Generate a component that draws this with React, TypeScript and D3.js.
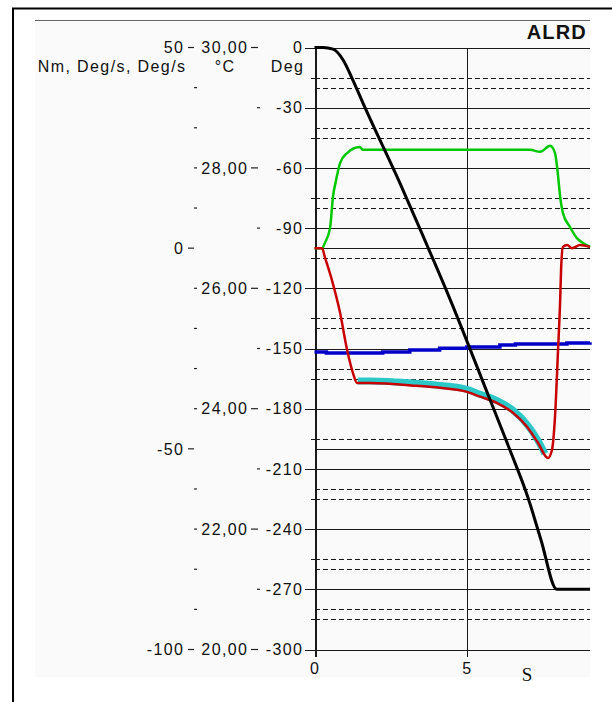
import * as d3 from "d3";

// time axis, seconds
const xTicks = [0, 5];

// Deg axis (black curve)
const degTicks = [0, -30, -60, -90, -120, -150, -180, -210, -240, -270, -300];
const degMinor = [-15, -45, -75, -105, -135, -165, -195, -225, -255, -285];
// Nm / Deg/s axis
const nmTicks = [50, 0, -50, -100];
const nmMinor = [40, 30, 20, 10, -10, -20, -30, -40, -60, -70, -80, -90];
// temperature axis
const tempTicks = [30, 28, 26, 24, 22, 20];
const tempMinor = [29, 27, 25, 23, 21];

// angle, Deg
const angleT = [0, 0.28, 0.61, 0.94, 1.26, 1.66, 2.81, 3.61, 4.4, 5.77, 6.42, 7.02, 7.44, 7.96, 9.05];
const angleV = [0, 0, -0.8, -6.2, -16.2, -30, -67.7, -95.5, -123.5, -175.7, -200.6, -224.6, -245.4, -270, -270];

// speed, Deg/s (green)
const speedT = [0, 0.25, 0.34, 0.51, 0.61, 0.71, 0.84, 1.07, 1.49, 1.59, 7.08, 7.41, 7.74, 7.9, 7.97, 8.07, 8.16, 8.39, 8.62, 8.82, 9.05];
const speedV = [0, 0, 1.3, 5, 13, 17, 21.2, 23.7, 25.2, 24.5, 24.5, 24, 25.5, 23.7, 20.2, 12.8, 8.8, 5.3, 2.5, 1.3, 0.3];

// torque, Nm (red)
const torqueT = [0, 0.25, 0.34, 0.57, 0.84, 1.07, 1.26, 1.4, 1.82, 3.37, 4.12, 5.01, 5.44, 6, 6.52, 6.98, 7.34, 7.67, 7.8, 7.9, 8, 8.07, 8.1, 8.16, 8.3, 8.46, 8.72, 9.05];
const torqueV = [0, 0, -2.2, -7.9, -16.1, -25.3, -31, -33.6, -33.6, -34.3, -34.8, -35.8, -37, -38.6, -41, -44.5, -48.5, -52.3, -50.3, -42.1, -25.4, -12.9, -5.4, 0.3, 0.8, 0, 0.8, 0.3];

// second speed, Deg/s (cyan)
const speed2T = [1.42, 1.82, 3.37, 4.12, 5.01, 5.44, 6, 6.52, 6.98, 7.34, 7.57];
const speed2V = [-33.1, -33.1, -33.7, -34.2, -35.2, -36.4, -38, -40.4, -43.9, -47.9, -51.2];

// temperature, °C (blue)
const tempT = [0, 0.39, 2.24, 3.13, 4.11, 5.0, 6.09, 6.6, 8.29, 9.05];
const tempV = [24.94, 24.925, 24.94, 24.975, 25.005, 25.025, 25.058, 25.075, 25.092, 25.105];

const W = 612;
const H = 702;
const left = 314.5;
const right = 590;
const top = 47.5;
const bottom = 649.5;

const font = "'Liberation Sans', Arial, sans-serif";

export default function App() {
  const x = d3.scaleLinear().domain([0, 9.05]).range([left, right]);
  const yDeg = d3.scaleLinear().domain([0, -300]).range([top, bottom]);
  const yNm = d3.scaleLinear().domain([50, -100]).range([top, bottom]);
  const yTemp = d3.scaleLinear().domain([30, 20]).range([top, bottom]);

  const mk = (ts: number[], vs: number[]) => ts.map((t, i) => [t, vs[i]] as [number, number]);
  const snap = (v: number) => Math.round(v) + 0.5;

  const angleLine = d3
    .line<[number, number]>()
    .x((d) => x(d[0]))
    .y((d) => yDeg(d[1]))
    .curve(d3.curveMonotoneX);
  const nmLine = d3
    .line<[number, number]>()
    .x((d) => x(d[0]))
    .y((d) => yNm(d[1]))
    .curve(d3.curveMonotoneX);
  const tempLine = d3
    .line<[number, number]>()
    .x((d) => x(d[0]))
    .y((d) => yTemp(d[1]))
    .curve(d3.curveStepAfter);

  const lbl = {
    fontFamily: font,
    fontSize: 16,
    letterSpacing: 1.4,
    fill: "#111",
  } as const;

  const nmRight = 183 + 1.4;
  const tempRight = 247 + 1.4;
  const degRight = 302 + 1.4;
  const gridCol = "#1a1a1a";

  return (
    <svg
      width={W}
      height={H}
      style={{ position: "absolute", left: 0, top: 0, background: "#fff" }}
    >
      <rect x={35} y={20} width={555} height={657} fill="#fafafa" />
      <line x1={12} x2={W} y1={8.5} y2={8.5} stroke="#000" strokeWidth={2} />
      <line x1={13} x2={13} y1={8} y2={H} stroke="#000" strokeWidth={2} />
      <line x1={35} x2={590} y1={20.5} y2={20.5} stroke="#666" strokeWidth={1} />

      <text x={587} y={39} textAnchor="end" fontFamily={font} fontWeight="bold" fontSize={20} letterSpacing={1.2} fill="#111">
        ALRD
      </text>

      {/* grid */}
      <g shapeRendering="crispEdges">
        {degMinor.map((d) => (
          <g key={"dm" + d}>
            <line x1={left} x2={right} y1={snap(yDeg(d))} y2={snap(yDeg(d))} stroke={gridCol} strokeWidth={1.4} strokeDasharray="5,3" />
            <line x1={left - 4} x2={left} y1={snap(yDeg(d))} y2={snap(yDeg(d))} stroke={gridCol} strokeWidth={1.4} />
          </g>
        ))}
        {nmMinor.map((d) => (
          <line key={"nm" + d} x1={left} x2={right} y1={snap(yNm(d))} y2={snap(yNm(d))} stroke={gridCol} strokeWidth={1.4} strokeDasharray="5,3" />
        ))}
        {degTicks.map((d) => (
          <line key={"dg" + d} x1={left - 10} x2={right} y1={snap(yDeg(d))} y2={snap(yDeg(d))} stroke={gridCol} strokeWidth={1.6} />
        ))}
        {nmTicks.map((d) => (
          <line key={"nj" + d} x1={left} x2={right} y1={snap(yNm(d))} y2={snap(yNm(d))} stroke={gridCol} strokeWidth={1.6} />
        ))}
        {xTicks.map((t) => (
          <line key={"xt" + t} x1={snap(x(t))} x2={snap(x(t))} y1={top} y2={bottom + 7} stroke={gridCol} strokeWidth={t === 0 ? 2 : 1.6} />
        ))}
      </g>

      {/* Nm axis */}
      {nmTicks.map((d) => (
        <g key={"nl" + d}>
          <text x={nmRight} y={yNm(d)} dy="0.36em" textAnchor="end" {...lbl}>
            {d}
          </text>
          <line x1={188} x2={194} y1={yNm(d)} y2={yNm(d)} stroke="#222" strokeWidth={1.2} />
        </g>
      ))}
      {nmMinor.map((d) => (
        <line key={"nd" + d} x1={194} x2={197} y1={yNm(d)} y2={yNm(d)} stroke="#222" strokeWidth={1.2} />
      ))}

      {/* temperature axis */}
      {tempTicks.map((d) => (
        <g key={"tl" + d}>
          <text x={tempRight} y={yTemp(d)} dy="0.36em" textAnchor="end" {...lbl}>
            {d3.format(".2f")(d).replace(".", ",")}
          </text>
          <line x1={251} x2={258} y1={yTemp(d)} y2={yTemp(d)} stroke="#222" strokeWidth={1.2} />
        </g>
      ))}
      {tempMinor.map((d) => (
        <line key={"td" + d} x1={257} x2={260} y1={yTemp(d)} y2={yTemp(d)} stroke="#222" strokeWidth={1.2} />
      ))}

      {/* Deg axis */}
      {degTicks.map((d) => (
        <text key={"dl" + d} x={degRight} y={yDeg(d)} dy="0.36em" textAnchor="end" {...lbl}>
          {d}
        </text>
      ))}

      {/* units */}
      <text x={185 + 1.4} y={72} textAnchor="end" {...lbl}>Nm, Deg/s, Deg/s</text>
      <text x={234 + 1.4} y={72} textAnchor="end" {...lbl}>°C</text>
      <text x={303 + 1.4} y={72} textAnchor="end" {...lbl}>Deg</text>

      {/* x labels */}
      {xTicks.map((t) => (
        <text key={"xl" + t} x={x(t)} y={668} dy="0.36em" textAnchor="middle" {...lbl} letterSpacing={0}>
          {t}
        </text>
      ))}
      <text x={527} y={681} textAnchor="middle" fontFamily="'Liberation Serif', 'Times New Roman', serif" fontSize={19} fill="#111">
        S
      </text>

      {/* series */}
      <path d={tempLine(mk(tempT, tempV)) ?? ""} fill="none" stroke="#0000c8" strokeWidth={3.5} />
      <path d={nmLine(mk(speed2T, speed2V)) ?? ""} fill="none" stroke="#2cc8c8" strokeWidth={7} strokeLinejoin="round" />
      <path d={nmLine(mk(speedT, speedV)) ?? ""} fill="none" stroke="#00c800" strokeWidth={2.5} />
      <path d={nmLine(mk(torqueT, torqueV)) ?? ""} fill="none" stroke="#c80000" strokeWidth={2.5} />
      <path d={angleLine(mk(angleT, angleV)) ?? ""} fill="none" stroke="#000" strokeWidth={3} />
    </svg>
  );
}
